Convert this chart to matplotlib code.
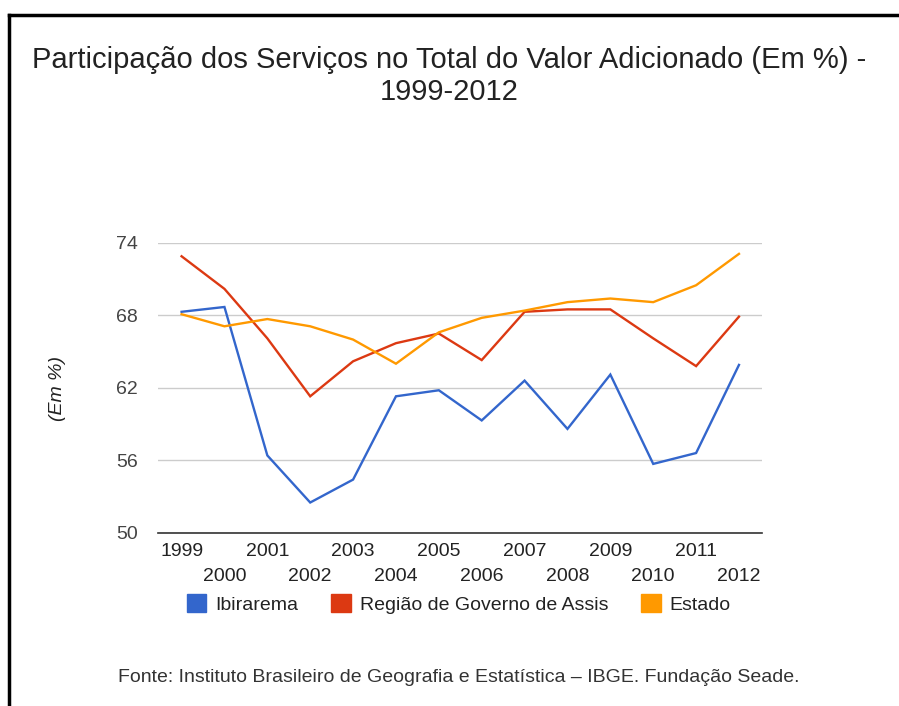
import matplotlib.pyplot as plt
from matplotlib.lines import Line2D
from matplotlib.patches import Patch

# dados
anos = ['1999', '2000', '2001', '2002', '2003', '2004', '2005',
        '2006', '2007', '2008', '2009', '2010', '2011', '2012']
ibirarema = [68.3, 68.7, 56.4, 52.5, 54.4, 61.3, 61.8,
             59.3, 62.6, 58.6, 63.1, 55.7, 56.6, 63.9]
regiao = [72.9, 70.2, 66.1, 61.3, 64.2, 65.7, 66.5,
          64.3, 68.3, 68.5, 68.5, 66.1, 63.8, 67.9]
estado = [68.1, 67.1, 67.7, 67.1, 66.0, 64.0, 66.6,
          67.8, 68.4, 69.1, 69.4, 69.1, 70.5, 73.1]
yticks = [50, 56, 62, 68, 74]

cores = ['#3366cc', '#dc3912', '#ff9900']
nomes = ['Ibirarema', 'Região de Governo de Assis', 'Estado']

plt.rcParams['font.family'] = ['Liberation Sans', 'DejaVu Sans']

W, H = 899, 706
fig = plt.figure(figsize=(W / 100, H / 100), dpi=100)
ax = fig.add_axes([158 / W, 1 - 532.7 / H, (761.7 - 158) / W, (532.7 - 243) / H])

x = list(range(len(anos)))
for serie, cor in zip([ibirarema, regiao, estado], cores):
    ax.plot(x, serie, color=cor, linewidth=1.7, solid_joinstyle='miter', zorder=3)

ax.set_ylim(50, 74)
ax.set_xlim(-0.55, 13.53)
ax.set_yticks(yticks)
ax.set_yticklabels([str(v) for v in yticks])
ax.grid(axis='y', color='#cccccc', linewidth=1)
ax.set_axisbelow(True)
for s in ['top', 'right', 'left']:
    ax.spines[s].set_visible(False)
ax.spines['bottom'].set_color('#333333')
ax.spines['bottom'].set_linewidth(1.2)

ax.set_xticks(x[::2], anos[::2])
ax.set_xticks(x[1::2], anos[1::2], minor=True)
ax.tick_params(axis='x', which='both', length=0, labelsize=14, labelcolor='#222222')
ax.tick_params(axis='x', which='major', pad=7.6)
ax.tick_params(axis='x', which='minor', pad=25.5)
ax.tick_params(axis='y', length=0, labelsize=14, labelcolor='#444444', pad=14.5)

fig.text(57 / W, 1 - 388 / H, '(Em %)', rotation=90, ha='center', va='center',
         fontsize=14, style='italic', color='#222222')

fig.text(449 / W, 1 - 76 / H, 'Participação dos Serviços no Total do Valor Adicionado (Em %) -\n1999-2012',
         ha='center', va='center', fontsize=21, color='#222222', linespacing=1.22)

handles = [Patch(facecolor=c, edgecolor=c) for c in cores]
fig.legend(handles, nomes, loc='center', bbox_to_anchor=(459 / W, 1 - 604 / H), ncol=3,
           frameon=False, fontsize=14, handlelength=1.0, handleheight=1.0,
           handletextpad=0.46, columnspacing=1.7, labelcolor='#222222',
           borderpad=0, borderaxespad=0)

fig.text(459 / W, 1 - 678 / H, 'Fonte: Instituto Brasileiro de Geografia e Estatística – IBGE. Fundação Seade.',
         ha='center', va='center', fontsize=14, color='#333333')

# moldura preta (topo e esquerda)
fig.add_artist(Line2D([9 / W, 1], [1 - 15 / H, 1 - 15 / H], color='black', linewidth=2.5))
fig.add_artist(Line2D([9 / W, 9 / W], [0, 1 - 15 / H], color='black', linewidth=2.5))

fig.savefig('out.png', dpi=100, facecolor='white')
